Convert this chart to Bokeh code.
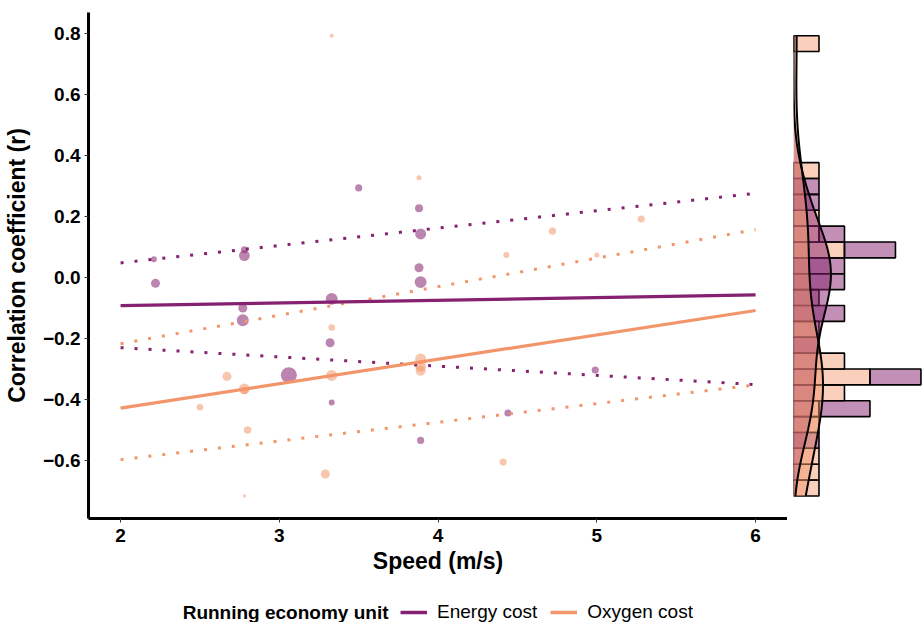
import numpy as np
from bokeh.plotting import figure
from bokeh.models import (Range1d, FixedTicker, CustomJSTickFormatter, Legend,
                          LegendItem, Label)
from bokeh.layouts import column, row
from bokeh.embed import file_html
from bokeh.resources import INLINE

# ---------------- data ----------------
energy_speed = [2.21, 2.22, 2.78, 2.78, 2.77, 2.77, 3.06, 3.33, 3.32, 3.33,
                3.50, 3.88, 3.89, 3.88, 3.89, 3.89, 4.44, 4.99]
energy_r = [0.060, -0.019, 0.091, 0.072, -0.100, -0.140, -0.320, -0.070, -0.214, -0.410,
            0.294, 0.227, 0.143, 0.032, -0.015, -0.534, -0.444, -0.303]
energy_n = [14, 32, 20, 45, 32, 56, 100, 56, 32, 14,
            20, 25, 47, 32, 56, 20, 20, 20]

oxygen_speed = [2.50, 2.67, 2.78, 2.78, 2.80, 2.78, 3.29, 3.33, 3.33, 3.33,
                3.88, 3.89, 3.89, 3.89, 4.41, 4.43, 4.72, 5.00, 5.28]
oxygen_r = [-0.425, -0.324, -0.365, -0.370, -0.500, -0.716, -0.644, 0.793, -0.164, -0.321,
            0.327, -0.267, -0.290, -0.305, -0.605, 0.074, 0.152, 0.074, 0.192]
oxygen_n = [17, 32, 47, 20, 22, 4, 32, 6, 17, 47,
            10, 47, 47, 40, 20, 14, 20, 10, 20]

line_speed = [2, 6]
energy_fit = [-0.092, -0.057]
energy_lo = [-0.230, -0.351]
energy_hi = [0.048, 0.276]
oxygen_fit = [-0.428, -0.108]
oxygen_lo = [-0.597, -0.352]
oxygen_hi = [-0.217, 0.157]

x_ticks = [2, 3, 4, 5, 6]
y_ticks = [-0.6, -0.4, -0.2, 0.0, 0.2, 0.4, 0.6, 0.8]
group_labels = ["Energy cost", "Oxygen cost"]
legend_title = "Running economy unit"

# ---------------- styles ----------------
PURPLE = "#852170"
ORANGE = "#F3956A"
FONT = "Liberation Sans"


def size_of(n):
    return [1.6 * np.sqrt(v) for v in n]


# ---------------- main panel ----------------
main = figure(frame_width=699, frame_height=506,
              x_range=Range1d(1.798, 6.201), y_range=Range1d(-0.790, 0.869),
              min_border_left=88, min_border_top=12, min_border_bottom=57,
              min_border_right=0, output_backend="svg", toolbar_location=None)
main.outline_line_color = None
main.grid.visible = False

main.scatter(energy_speed, energy_r, size=size_of(energy_n), fill_color=PURPLE,
             fill_alpha=0.55, line_color=None)
main.scatter(oxygen_speed, oxygen_r, size=size_of(oxygen_n), fill_color=ORANGE,
             fill_alpha=0.55, line_color=None)

for ys, col in [(energy_lo, PURPLE), (energy_hi, PURPLE), (oxygen_lo, ORANGE), (oxygen_hi, ORANGE)]:
    main.line(line_speed, ys, line_color=col, line_width=3, line_dash="3 11", line_cap="butt")
main.line(line_speed, energy_fit, line_color=PURPLE, line_width=3.2)
main.line(line_speed, oxygen_fit, line_color=ORANGE, line_width=3.2)

main.xaxis.ticker = FixedTicker(ticks=x_ticks)
main.yaxis.ticker = FixedTicker(ticks=y_ticks)
main.yaxis.formatter = CustomJSTickFormatter(
    code="return (tick < -1e-9 ? '\\u2212' : '') + Math.abs(tick).toFixed(1);")
main.xaxis.formatter = CustomJSTickFormatter(code="return tick.toFixed(0);")
for ax in main.axis:
    ax.axis_line_width = 3
    ax.axis_line_color = "black"
    ax.major_tick_out = 4
    ax.major_tick_in = 0
    ax.major_tick_line_width = 1
    ax.major_tick_line_color = "#333333"
    ax.minor_tick_out = 0
    ax.minor_tick_in = 0
    ax.major_label_text_font = FONT
    ax.major_label_text_font_style = "bold"
    ax.major_label_text_font_size = "19px"
    ax.major_label_text_color = "black"
    ax.axis_label_text_font = FONT
    ax.axis_label_text_font_style = "bold"
    ax.axis_label_text_font_size = "23px"
    ax.axis_label_text_color = "black"
main.xaxis.axis_label = "Speed (m/s)"
main.yaxis.axis_label = "Correlation coefficient (r)"
main.xaxis.major_label_standoff = 6
main.yaxis.major_label_standoff = 4
main.xaxis.axis_label_standoff = 3
main.yaxis.axis_label_standoff = 10

# ---------------- marginal panel ----------------
all_r = np.array(energy_r + oxygen_r)
edges = np.linspace(all_r.min(), all_r.max(), 30)
bw_bin = edges[1] - edges[0]
centers = (edges[:-1] + edges[1:]) / 2
cnt_e, _ = np.histogram(energy_r, bins=edges)
cnt_o, _ = np.histogram(oxygen_r, bins=edges)

marg = figure(frame_width=130, frame_height=506, x_range=Range1d(0, 5.1),
              y_range=main.y_range, x_axis_location=None, y_axis_location=None,
              min_border_left=6, min_border_top=12, min_border_bottom=57,
              min_border_right=0, output_backend="svg", toolbar_location=None)
marg.outline_line_color = None
marg.grid.visible = False

mo = cnt_o > 0
marg.hbar(y=centers[mo], height=bw_bin, left=0, right=cnt_o[mo], fill_color=ORANGE,
          fill_alpha=0.45, line_color="black", line_width=1.6)
me = cnt_e > 0
marg.hbar(y=centers[me], height=bw_bin, left=cnt_o[me], right=(cnt_o + cnt_e)[me],
          fill_color=PURPLE, fill_alpha=0.5, line_color="black", line_width=1.6)

grid = np.linspace(all_r.min(), all_r.max(), 512)


def kde(vals):
    v = np.asarray(vals, dtype=float)
    n = len(v)
    sd = v.std(ddof=1)
    q75, q25 = np.percentile(v, [75, 25])
    bw = 0.9 * min(sd, (q75 - q25) / 1.34) * n ** -0.2
    d = np.exp(-0.5 * ((grid[:, None] - v[None, :]) / bw) ** 2).sum(1) / (n * bw * np.sqrt(2 * np.pi))
    return d * n * bw_bin


dens_e = kde(energy_r)
dens_o = kde(oxygen_r)
marg.harea(y=grid, x1=0, x2=dens_e, fill_color=PURPLE, fill_alpha=0.5)
marg.harea(y=grid, x1=0, x2=dens_o, fill_color=ORANGE, fill_alpha=0.5)
marg.line(dens_e, grid, line_color="black", line_width=2)
marg.line(dens_o, grid, line_color="black", line_width=2)

# ---------------- legend strip ----------------
legf = figure(width=923, height=47, x_range=Range1d(0, 923), y_range=Range1d(0, 47),
              x_axis_location=None, y_axis_location=None, min_border=0,
              output_backend="svg", toolbar_location=None)
legf.outline_line_color = None
legf.grid.visible = False
r1 = legf.line(x=[np.nan, np.nan], y=[np.nan, np.nan], line_color=PURPLE, line_width=3.5)
r2 = legf.line(x=[np.nan, np.nan], y=[np.nan, np.nan], line_color=ORANGE, line_width=3.5)
legend = Legend(items=[LegendItem(label=group_labels[0], renderers=[r1]),
                       LegendItem(label=group_labels[1], renderers=[r2])],
                orientation="horizontal", location=(400, 0), padding=0, margin=0,
                spacing=13, glyph_width=27, glyph_height=22, label_standoff=10,
                label_height=22,
                border_line_color=None, background_fill_alpha=0,
                label_text_font=FONT, label_text_font_size="19px",
                label_text_color="black")
legf.add_layout(legend)
legf.add_layout(Label(x=388, y=11, text=legend_title, text_align="right",
                      text_baseline="middle", text_font=FONT, text_font_style="bold",
                      text_font_size="19px", text_color="black"))

layout = column(row(main, marg), legf)
open("out.html", "w").write(file_html(layout, INLINE))
